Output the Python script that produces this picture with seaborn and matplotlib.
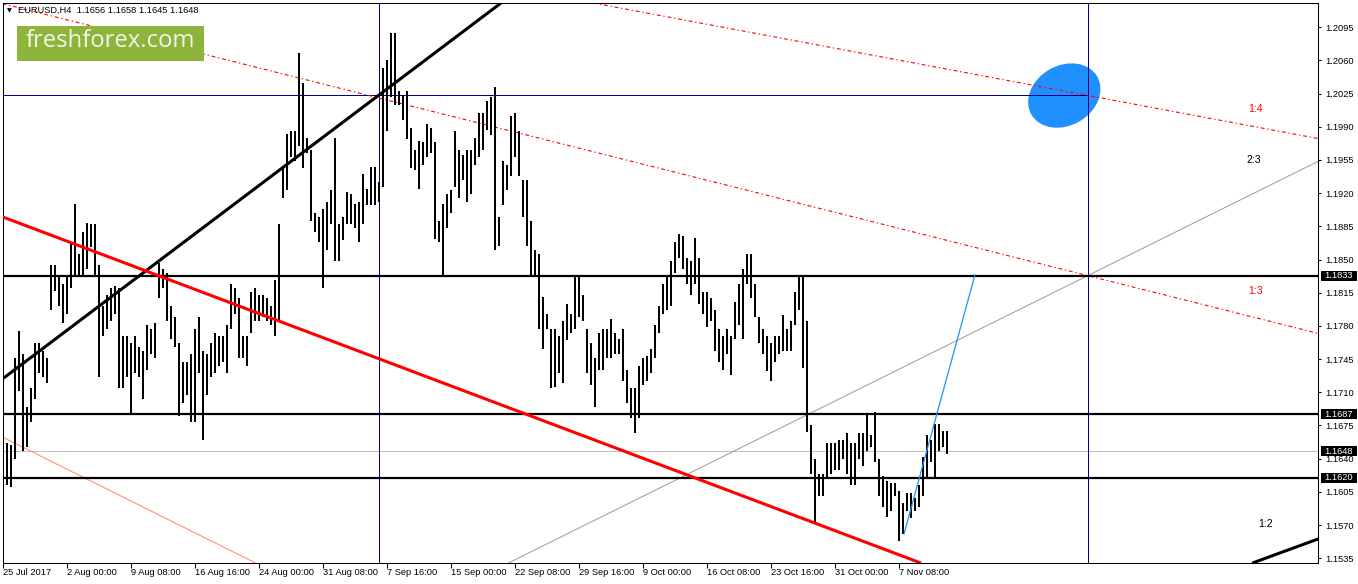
import numpy as np
import pandas as pd
import matplotlib
matplotlib.use('Agg')
import matplotlib.pyplot as plt
import seaborn as sns
from matplotlib.patches import Ellipse, Rectangle
from matplotlib.transforms import blended_transform_factory, ScaledTranslation

# EURUSD H4, one bar per 8 hours (high / low)
highs = [1.1711, 1.1656, 1.1654, 1.1746, 1.1775, 1.1750, 1.1695, 1.1715, 1.1762, 1.1762,
         1.1754, 1.1746, 1.1844, 1.1844, 1.1832, 1.1824, 1.1832, 1.1868, 1.1909, 1.1856,
         1.1879, 1.1889, 1.1887, 1.1887, 1.1844, 1.1801, 1.1813, 1.1820, 1.1822, 1.1820,
         1.1769, 1.1769, 1.1762, 1.1769, 1.1758, 1.1754, 1.1781, 1.1777, 1.1783, 1.1846,
         1.1840, 1.1836, 1.1801, 1.1789, 1.1762, 1.1742, 1.1742, 1.1750, 1.1777, 1.1789,
         1.1754, 1.1750, 1.1762, 1.1773, 1.1769, 1.1769, 1.1781, 1.1824, 1.1820, 1.1809,
         1.1769, 1.1769, 1.1816, 1.1820, 1.1813, 1.1813, 1.1809, 1.1801, 1.1828, 1.1887,
         1.1946, 1.1982, 1.1986, 1.1986, 1.2068, 1.2036, 1.1978, 1.1966, 1.1899, 1.1895,
         1.1903, 1.1911, 1.1923, 1.1978, 1.1887, 1.1895, 1.1921, 1.1919, 1.1909, 1.1911,
         1.1940, 1.1924, 1.1948, 1.1948, 1.1932, 1.2052, 1.2060, 1.2089, 1.2089, 1.2028,
         1.2023, 1.2028, 1.1989, 1.1966, 1.1975, 1.1974, 1.1993, 1.1989, 1.1974, 1.1891,
         1.1909, 1.1919, 1.1923, 1.1986, 1.1966, 1.1960, 1.1966, 1.1966, 1.1978, 1.2005,
         1.2005, 1.2017, 1.2021, 1.2032, 1.1895, 1.1954, 1.1950, 1.2001, 1.2005, 1.1986,
         1.1934, 1.1934, 1.1891, 1.1860, 1.1856, 1.1811, 1.1793, 1.1777, 1.1777, 1.1769,
         1.1785, 1.1803, 1.1793, 1.1832, 1.1832, 1.1813, 1.1777, 1.1762, 1.1746, 1.1773,
         1.1777, 1.1777, 1.1787, 1.1773, 1.1766, 1.1777, 1.1734, 1.1714, 1.1714, 1.1738,
         1.1746, 1.1748, 1.1756, 1.1781, 1.1801, 1.1824, 1.1832, 1.1848, 1.1868, 1.1877,
         1.1875, 1.1852, 1.1848, 1.1873, 1.1852, 1.1816, 1.1816, 1.1809, 1.1797, 1.1777,
         1.1769, 1.1777, 1.1769, 1.1805, 1.1824, 1.1840, 1.1856, 1.1856, 1.1824, 1.1789,
         1.1777, 1.1769, 1.1762, 1.1769, 1.1769, 1.1791, 1.1777, 1.1785, 1.1816, 1.1832,
         1.1834, 1.1785, 1.1675, 1.1640, 1.1624, 1.1624, 1.1656, 1.1656, 1.1656, 1.1660,
         1.1660, 1.1667, 1.1656, 1.1656, 1.1667, 1.1667, 1.1687, 1.1665, 1.1689, 1.1640,
         1.1622, 1.1616, 1.1614, 1.1614, 1.1606, 1.1593, 1.1604, 1.1604, 1.1598, 1.1612,
         1.1642, 1.1665, 1.1660, 1.1677, 1.1677, 1.1669, 1.1669]
lows = [1.1644, 1.1612, 1.1610, 1.1640, 1.1711, 1.1648, 1.1652, 1.1679, 1.1703, 1.1730,
        1.1726, 1.1720, 1.1797, 1.1817, 1.1801, 1.1783, 1.1793, 1.1820, 1.1832, 1.1832,
        1.1832, 1.1840, 1.1863, 1.1832, 1.1726, 1.1769, 1.1777, 1.1785, 1.1793, 1.1714,
        1.1714, 1.1726, 1.1687, 1.1730, 1.1726, 1.1703, 1.1734, 1.1750, 1.1746, 1.1809,
        1.1820, 1.1785, 1.1766, 1.1758, 1.1685, 1.1699, 1.1707, 1.1679, 1.1679, 1.1730,
        1.1660, 1.1707, 1.1726, 1.1730, 1.1738, 1.1742, 1.1730, 1.1777, 1.1793, 1.1746,
        1.1746, 1.1738, 1.1773, 1.1785, 1.1785, 1.1789, 1.1785, 1.1781, 1.1769, 1.1785,
        1.1915, 1.1923, 1.1958, 1.1954, 1.1970, 1.1946, 1.1962, 1.1891, 1.1879, 1.1868,
        1.1820, 1.1860, 1.1887, 1.1848, 1.1848, 1.1871, 1.1887, 1.1887, 1.1883, 1.1868,
        1.1887, 1.1907, 1.1907, 1.1907, 1.1911, 1.1927, 1.1985, 1.2021, 1.2013, 1.2013,
        1.1997, 1.1977, 1.1946, 1.1944, 1.1924, 1.1950, 1.1958, 1.1962, 1.1872, 1.1868,
        1.1834, 1.1883, 1.1899, 1.1927, 1.1915, 1.1934, 1.1911, 1.1919, 1.1950, 1.1958,
        1.1966, 1.1987, 1.1981, 1.1860, 1.1864, 1.1907, 1.1923, 1.1938, 1.1958, 1.1938,
        1.1895, 1.1864, 1.1832, 1.1832, 1.1777, 1.1756, 1.1777, 1.1714, 1.1716, 1.1730,
        1.1720, 1.1765, 1.1773, 1.1777, 1.1789, 1.1785, 1.1730, 1.1718, 1.1695, 1.1734,
        1.1734, 1.1746, 1.1746, 1.1750, 1.1750, 1.1722, 1.1699, 1.1683, 1.1667, 1.1683,
        1.1718, 1.1722, 1.1730, 1.1746, 1.1773, 1.1793, 1.1797, 1.1801, 1.1836, 1.1852,
        1.1840, 1.1824, 1.1813, 1.1824, 1.1803, 1.1793, 1.1779, 1.1785, 1.1754, 1.1742,
        1.1734, 1.1750, 1.1728, 1.1766, 1.1781, 1.1766, 1.1824, 1.1809, 1.1789, 1.1762,
        1.1750, 1.1732, 1.1722, 1.1742, 1.1750, 1.1754, 1.1754, 1.1754, 1.1781, 1.1797,
        1.1736, 1.1668, 1.1624, 1.1573, 1.1601, 1.1601, 1.1620, 1.1624, 1.1628, 1.1628,
        1.1640, 1.1624, 1.1612, 1.1612, 1.1640, 1.1632, 1.1648, 1.1652, 1.1636, 1.1601,
        1.1589, 1.1579, 1.1585, 1.1601, 1.1553, 1.1561, 1.1585, 1.1577, 1.1585, 1.1589,
        1.1601, 1.1620, 1.1636, 1.1620, 1.1648, 1.1652, 1.1645]

# x axis is counted in H4 bars
time_ticks = [0, 32, 64, 96, 128, 160, 192, 224, 256, 288, 320, 352, 384, 416, 448]
time_labels = ['25 Jul 2017', '2 Aug 00:00', '9 Aug 08:00', '16 Aug 16:00', '24 Aug 00:00',
               '31 Aug 08:00', '7 Sep 16:00', '15 Sep 00:00', '22 Sep 08:00', '29 Sep 16:00',
               '9 Oct 00:00', '16 Oct 08:00', '23 Oct 16:00', '31 Oct 00:00', '7 Nov 08:00']
price_ticks = [1.2095, 1.2060, 1.2025, 1.1990, 1.1955, 1.1920, 1.1885, 1.1850, 1.1815,
               1.1780, 1.1745, 1.1710, 1.1675, 1.1640, 1.1605, 1.1570, 1.1535]

levels = [1.1833, 1.1687, 1.1620]
bid = 1.1648
header = 'EURUSD,H4  1.1656 1.1658 1.1645 1.1648'

# drawn objects (time in H4 bars, price)
vlines_t = [188.2, 542.35]
blue_level = 1.2023
black_trend = [(0, 1.17245), (249, 1.21205)]
red_trend = [(0, 1.18948), (458.5, 1.15303)]
salmon_trend = [(0, 1.16625), (126, 1.15303)]
red_dash_top = [(0, 1.22369), (542.35, 1.2023)]
red_dash_mid = [(0, 1.21197), (542.35, 1.1833)]
grey_fan = [(253.5, 1.15308), (542.35, 1.1833)]
blue_seg = [(450.5, 1.15605), (486, 1.1834)]
black_bottom = [(625.15, 1.15303), (657.65, 1.15554)]
ratio_labels = [('1:4', 626.5, 1.20087, 'red'), ('2:3', 625.5, 1.19550, 'black'),
                ('1:3', 626.5, 1.18168, 'red'), ('1:2', 631.5, 1.15711, 'black')]
ellipse_center = (530.65, 1.20229)

df = pd.DataFrame({'high': highs, 'low': lows})
df['t'] = np.arange(len(df)) * 2

sns.set_style('white')
plt.rcParams['font.family'] = ['Liberation Sans', 'DejaVu Sans']

W, H = 1358, 584
fig = plt.figure(figsize=(W / 100, H / 100), dpi=100)
ax = fig.add_axes([2.5 / W, 1 - 562.7 / H, (1318 - 2.5) / W, (562.7 - 3) / H])
ax.set_xlim(-0.25, 657.5)
ax.set_ylim(1.15303, 1.21205)

# ellipse behind everything
etrans = fig.dpi_scale_trans + ScaledTranslation(ellipse_center[0], ellipse_center[1], ax.transData)
ax.add_patch(Ellipse((0, 0), 0.76, 0.60, angle=30, transform=etrans,
                     facecolor='#1e90ff', edgecolor='none', zorder=1))

# bars
ax.vlines(df['t'], df['low'], df['high'], colors='black', linewidth=1.3,
          antialiased=False, zorder=3)

# levels
ax.axhline(bid, color='#c0c0c0', lw=0.72, antialiased=False, zorder=2)
for lv in levels:
    ax.axhline(lv, color='black', lw=1.6, zorder=4)
for t in vlines_t:
    ax.axvline(t, color='#00008c', lw=0.72, antialiased=False, zorder=2)
ax.plot([-0.25, vlines_t[1]], [blue_level, blue_level], color='#00008c', lw=0.72,
        antialiased=False, zorder=2)

# trend lines
dashdot = (0, (3.5, 2.5, 1.2, 2.5))
ax.axline(*black_trend, color='black', lw=2.2, zorder=5)
ax.axline(*red_trend, color='#ff0000', lw=2.2, zorder=5)
ax.axline(*salmon_trend, color='#ff8c69', lw=0.75, zorder=2)
ax.axline(*red_dash_top, color='#ff0000', lw=0.8, ls=dashdot, zorder=2)
ax.axline(*red_dash_mid, color='#ff0000', lw=0.8, ls=dashdot, zorder=2)
ax.axline(*grey_fan, color='#a0a0a0', lw=0.75, zorder=2)
ax.axline(*black_bottom, color='black', lw=2.2, zorder=5)
ax.plot([blue_seg[0][0], blue_seg[1][0]], [blue_seg[0][1], blue_seg[1][1]],
        color='#1e90ff', lw=0.9, zorder=5)

for txt, t, p, c in ratio_labels:
    ax.text(t, p, txt, color=c, fontsize=7.6, ha='center', va='center', zorder=6)

# axes
for sp in ax.spines.values():
    sp.set_visible(True)
    sp.set_color('black')
    sp.set_linewidth(0.75)
ax.yaxis.tick_right()
ax.set_yticks(price_ticks)
ax.set_yticklabels([f'{p:.4f}' for p in price_ticks])
ax.tick_params(axis='y', direction='out', length=2.5, width=0.75, pad=2.5,
               labelsize=6.7, colors='black', right=True, left=False)
ax.set_xticks(time_ticks)
ax.set_xticklabels(time_labels, ha='left')
ax.tick_params(axis='x', direction='out', length=3.5, width=0.75, pad=0.5,
               labelsize=6.7, colors='black', bottom=True)

# highlighted price labels on the right
btrans = blended_transform_factory(ax.transAxes, ax.transData)
for p in levels + [bid]:
    ax.add_patch(Rectangle((1.0021, p - 0.00052), 0.0276, 0.00104, transform=btrans,
                           facecolor='black', edgecolor='none', clip_on=False, zorder=10))
    ax.text(1.0046, p, f'{p:.4f}', transform=btrans, color='white', fontsize=6.7,
            ha='left', va='center', clip_on=False, zorder=11)

# header and logo
fig.text(9.2 / W, 1 - 10.5 / H, '\u25bc', fontsize=4.5, ha='center', va='center',
         family='DejaVu Sans', color='black')
fig.text(18.3 / W, 1 - 10 / H, header, fontsize=6.7, ha='left', va='center', color='black')
fig.add_artist(Rectangle((16.7 / W, 1 - 61 / H), 187.3 / W, 35 / H, transform=fig.transFigure,
                         facecolor='#8db53c', edgecolor='none', zorder=5))
fig.text(26 / W, 1 - 47 / H, 'freshforex.com', fontsize=17.2, family='Open Sans',
         color='#f4f5ea', ha='left', va='baseline', zorder=6)

fig.savefig('out.png', dpi=100, facecolor='white')
